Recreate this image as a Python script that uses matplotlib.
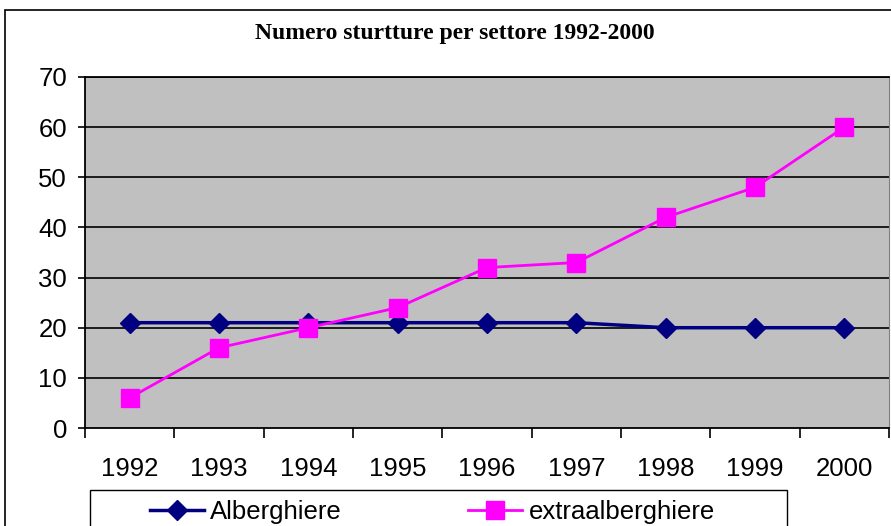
import matplotlib
matplotlib.use("Agg")
import matplotlib.pyplot as plt
from matplotlib.patches import Rectangle
import numpy as np

# ── Data ─────────────────────────────────────────────────────────────────── #
years = ["1992", "1993", "1994", "1995", "1996", "1997", "1998", "1999", "2000"]
alberghiere = [21, 21, 21, 21, 21, 21, 20, 20, 20]
extraalberghiere = [6, 16, 20, 24, 32, 33, 42, 48, 60]
yticks = [0, 10, 20, 30, 40, 50, 60, 70]

W, H = 891, 526
fig = plt.figure(figsize=(W / 100, H / 100), dpi=100)
fig.patch.set_facecolor("white")

# outer chart frame (cropped on the right and bottom)
fig.patches.append(Rectangle((5 / W, -0.1), 1.2, 1 - 10 / H + 0.1,
                             transform=fig.transFigure, fill=False,
                             edgecolor="black", linewidth=1.2))
# legend frame (also cropped at the bottom)
fig.patches.append(Rectangle((90 / W, -0.1), 697 / W, 1 - 490 / H + 0.1,
                             transform=fig.transFigure, fill=False,
                             edgecolor="black", linewidth=1.0))

left, right, top, bottom = 85, 889, 77, 428
ax = fig.add_axes([left / W, 1 - bottom / H, (right - left) / W, (bottom - top) / H])
ax.set_facecolor("#C0C0C0")

x = np.arange(len(years))
ax.plot(x, alberghiere, color="#000080", linewidth=2.5, marker="D",
        markersize=10, label="Alberghiere", zorder=3)
ax.plot(x, extraalberghiere, color="#FF00FF", linewidth=2, marker="s",
        markersize=13, label="extraalberghiere", zorder=4)

ax.set_xlim(-0.5, len(years) - 0.5)
ax.set_ylim(0, 70)
ax.set_yticks(yticks)
ax.set_yticklabels([str(v) for v in yticks], fontsize=18.5, family="Liberation Sans")
for v in yticks[1:]:
    ax.axhline(v, color="black", linewidth=1.2, zorder=1)

ax.set_xticks(x)
ax.set_xticklabels(years, fontsize=18.5, family="Liberation Sans")
ax.set_xticks(np.arange(-0.5, len(years)), minor=True)
ax.tick_params(axis="x", which="major", length=0, pad=21)
ax.tick_params(axis="x", which="minor", length=7, width=1.2, direction="out")
ax.tick_params(axis="y", length=5, width=1.2, direction="out", pad=8)

for s in ["left", "bottom", "top"]:
    ax.spines[s].set_color("black")
    ax.spines[s].set_linewidth(1.3)
ax.spines["right"].set_color("#808080")

fig.text(455 / W, 1 - 33 / H, "Numero sturtture per settore 1992-2000",
         ha="center", va="center", fontsize=17, fontweight="bold",
         family="Liberation Serif")

leg = fig.legend(loc="center left", ncol=2,
                 bbox_to_anchor=(150 / W, 1 - 512 / H),
                 bbox_transform=fig.transFigure,
                 prop={"family": "Liberation Sans", "size": 18.5},
                 frameon=False, handlelength=2.1, handletextpad=0.25,
                 borderpad=0, borderaxespad=0, columnspacing=4.9)

fig.savefig("out.png", dpi=100)
